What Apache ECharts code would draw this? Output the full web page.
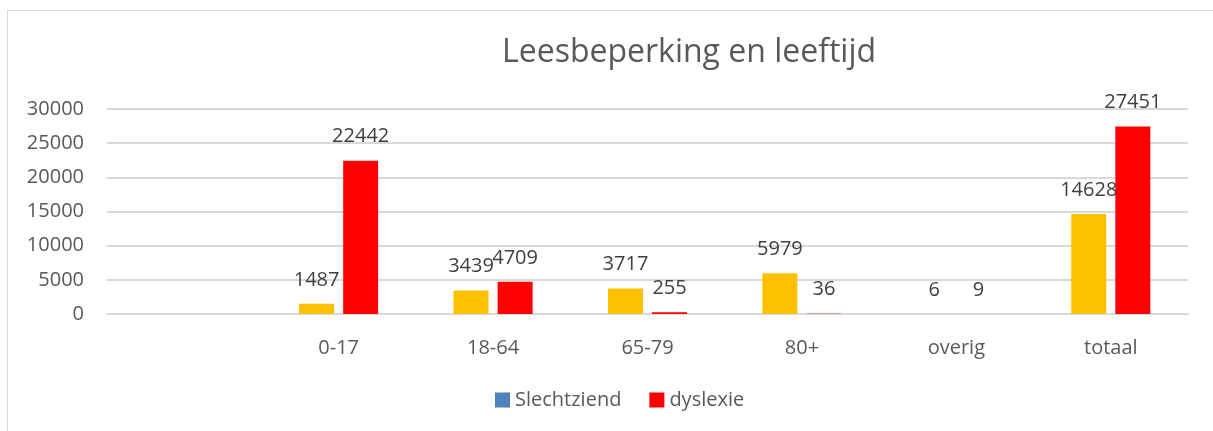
<!DOCTYPE html>
<html>
<head>
<meta charset="utf-8">
<script src="https://cdn.jsdelivr.net/npm/echarts@6/dist/echarts.min.js"></script>
<style>
  html, body { margin: 0; padding: 0; background: #fff; }
  #chart { width: 1213px; height: 431px; }
  /* rand van het excel-kader, alleen links en boven zichtbaar */
  .frame {
    position: absolute; left: 7px; top: 10px; right: -2px; bottom: -2px;
    border-left: 1px solid #d9d9d9; border-top: 1px solid #d9d9d9;
    pointer-events: none;
  }
</style>
</head>
<body>
<div id="chart"></div>
<div class="frame"></div>
<script>
// categorieen (eerste is leeg in het origineel)
const categories = ["", "0-17", "18-64", "65-79", "80+", "overig", "totaal"];
const slechtziend = [null, 1487, 3439, 3717, 5979, 6, 14628];
const dyslexie = [null, 22442, 4709, 255, 36, 9, 27451];
const yTicks = [0, 5000, 10000, 15000, 20000, 25000, 30000];

const font = "'Open Sans', sans-serif";
const chart = echarts.init(document.getElementById("chart"));

const labelStyle = {
  show: true,
  position: "top",
  distance: 14,
  color: "#404040",
  fontSize: 20,
  fontFamily: font,
};

chart.setOption({
  animation: false,
  title: {
    text: "Leesbeperking en leeftijd",
    left: 497,
    top: 32,
    textStyle: {
      color: "#595959",
      fontSize: 32,
      fontWeight: "normal",
      fontFamily: font,
    },
  },
  legend: {
    bottom: 16,
    left: 490,
    itemWidth: 15,
    itemHeight: 15,
    itemGap: 28,
    textStyle: { color: "#595959", fontSize: 20, fontFamily: font },
    data: [
      { name: "Slechtziend", icon: "rect", itemStyle: { color: "#4F81BD" } },
      { name: "dyslexie", icon: "rect", itemStyle: { color: "#FF0000" } },
    ],
  },
  grid: {
    left: 107,
    right: 25,
    top: 109,
    bottom: 117,
  },
  xAxis: {
    type: "category",
    data: categories,
    axisLine: { lineStyle: { color: "#d9d9d9", width: 2 } },
    axisTick: { show: false },
    axisLabel: {
      color: "#595959",
      fontSize: 20,
      fontFamily: font,
      margin: 24,
      interval: 0,
    },
  },
  yAxis: {
    type: "value",
    min: yTicks[0],
    max: yTicks[yTicks.length - 1],
    interval: 5000,
    axisLine: { show: false },
    axisTick: { show: false },
    splitLine: { lineStyle: { color: "#d9d9d9", width: 2 } },
    axisLabel: {
      color: "#595959",
      fontSize: 20,
      fontFamily: font,
      margin: 23,
      formatter: (v) => String(v),
    },
  },
  series: [
    {
      name: "Slechtziend",
      type: "bar",
      data: slechtziend,
      barWidth: 35,
      barGap: "26%",
      itemStyle: { color: "#FFC000" },
      label: labelStyle,
    },
    {
      name: "dyslexie",
      type: "bar",
      data: dyslexie,
      barWidth: 35,
      itemStyle: { color: "#FF0000" },
      label: labelStyle,
    },
  ],
});
</script>
</body>
</html>
